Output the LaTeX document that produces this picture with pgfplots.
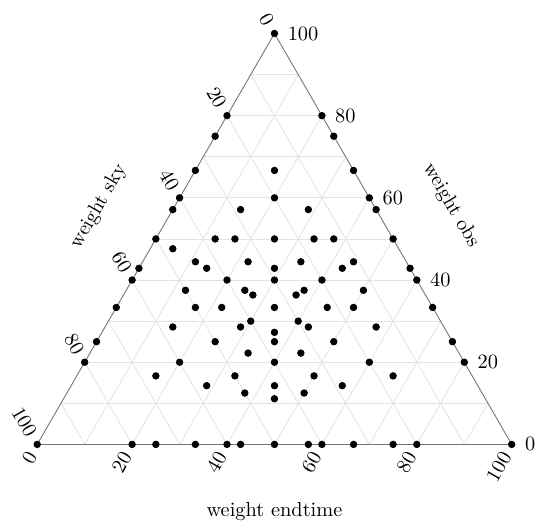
\documentclass[border=0pt]{standalone}
\usepackage{pgfplots}
\pgfplotsset{compat=1.18}
\usepgfplotslibrary{ternary}
\usepackage{pgfplotstable}

% sky obs end (percent)
\pgfplotstableread{
sky obs end
100 0 0
0 100 0
0 0 100
80 0 20
75 0 25
66.67 0 33.33
60 0 40
57.14 0 42.86
50 0 50
42.86 0 57.14
40 0 60
33.33 0 66.67
25 0 75
20 0 80
80 20 0
75 25 0
66.67 33.33 0
60 40 0
57.14 42.86 0
50 50 0
42.86 57.14 0
40 60 0
33.33 66.67 0
25 75 0
20 80 0
0 20 80
0 25 75
0 33.33 66.67
0 40 60
0 42.86 57.14
0 50 50
0 57.14 42.86
0 60 40
0 66.67 33.33
0 75 25
0 80 20
16.67 66.67 16.67
20 60 20
28.57 57.14 14.29
14.29 57.14 28.57
37.5 50 12.5
33.33 50 16.67
25 50 25
16.67 50 33.33
12.5 50 37.5
47.62 47.62 4.76
44.44 44.44 11.12
33.34 44.44 22.22
22.22 44.44 33.34
11.12 44.44 44.44
42.86 42.86 14.28
28.57 42.86 28.57
14.28 42.86 42.86
40 40 20
30 40 30
20 40 40
50 37.5 12.5
37.5 37.5 25
25 37.5 37.5
12.5 37.5 50
36.37 36.36 27.27
27.27 36.36 36.37
50 33.33 16.67
44.45 33.33 22.22
33.34 33.33 33.33
22.22 33.33 44.45
16.67 33.33 50
40 30 30
30 30 40
57.14 28.57 14.29
42.86 28.57 28.57
28.57 28.57 42.86
14.29 28.57 57.14
36.37 27.27 36.36
50 25 25
37.5 25 37.5
25 25 50
44.45 22.22 33.33
33.33 22.22 44.45
60 20 20
40 20 40
20 20 60
66.66 16.67 16.67
50 16.67 33.33
33.33 16.67 50
16.67 16.67 66.66
57.14 14.29 28.57
42.85 14.29 42.86
28.57 14.29 57.14
50 12.5 37.5
37.5 12.5 50
44.45 11.11 44.44
}\pts

\begin{document}
\begin{tikzpicture}
\begin{ternaryaxis}[
  scale only axis, width=233pt, height=201.8pt,
  xmin=0, xmax=100, ymin=0, ymax=100, zmin=0, zmax=100,
  xlabel={weight obs}, ylabel={weight sky}, zlabel={weight endtime},
  xtick={0,20,...,100}, ytick={0,20,...,100}, ztick={0,20,...,100},
  minor xtick={10,30,...,90}, minor ytick={10,30,...,90}, minor ztick={10,30,...,90},
  major tick length=0pt, minor tick length=0pt,
  grid=both,
  major grid style={gray!22}, minor grid style={gray!22},
  axis line style={black!55},
  xticklabel style={rotate=0, anchor=west, xshift=3pt},
  yticklabel style={rotate=-60, anchor=east, inner xsep=5pt},
  zticklabel style={rotate=60, anchor=east, inner xsep=5pt},
  xlabel style={rotate=-60},
  ylabel style={rotate=60, yshift=-4pt},
]
\addplot3[only marks, mark=*, mark size=1.6pt, black]
  table[x=obs, y=sky, z=end] {\pts};
\end{ternaryaxis}
\end{tikzpicture}
\end{document}
